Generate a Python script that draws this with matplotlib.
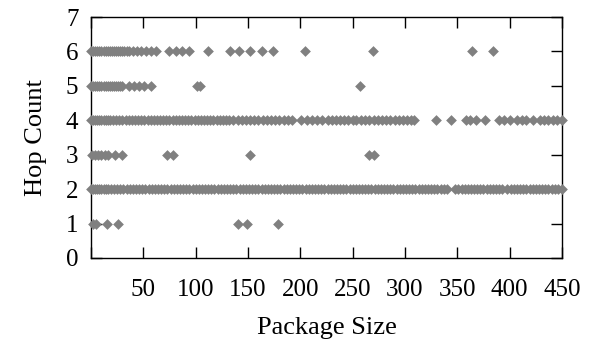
import matplotlib.pyplot as plt

# Package sizes observed for each hop count
hop1 = [2, 5, 15, 26, 140, 149, 179]
hop2 = [0, 2, 4, 6, 8, 10, 12, 14, 16, 19, 22, 25, 28, 31, 34, 37, 40, 43, 46, 49,
        52, 55, 58, 61, 64, 67, 70, 73, 76, 79, 82, 85, 88, 91, 94, 97, 100, 103,
        106, 109, 112, 115, 118, 121, 124, 127, 130, 133, 136, 139, 142, 145, 148,
        151, 154, 157, 160, 163, 166, 169, 172, 175, 178, 181, 184, 187, 190, 193,
        196, 199, 202, 205, 208, 211, 214, 217, 220, 223, 226, 229, 232, 235, 238,
        241, 244, 247, 250, 253, 256, 259, 262, 265, 268, 271, 274, 277, 280, 283,
        286, 289, 292, 295, 298, 301, 304, 307, 310, 313, 316, 319, 322, 325, 328,
        331, 334, 337, 340, 348, 351, 354, 357, 360, 363, 366, 369, 372, 375, 378,
        381, 384, 387, 390, 393, 397, 401, 404, 407, 410, 413, 416, 419, 422, 425,
        428, 431, 434, 437, 440, 443, 446, 450]
hop3 = [1, 4, 7, 10, 13, 16, 23, 30, 73, 78, 152, 266, 270]
hop4 = [0, 2, 4, 6, 8, 10, 12, 14, 16, 18, 21, 24, 27, 30, 33, 36, 39, 42, 45, 48,
        51, 54, 57, 60, 63, 66, 69, 72, 75, 78, 81, 84, 87, 90, 93, 96, 99, 102,
        105, 108, 111, 114, 117, 120, 123, 126, 129, 132, 136, 140, 144, 148, 152,
        156, 160, 164, 168, 172, 176, 180, 184, 188, 192, 201, 206, 211, 216, 221,
        226, 230, 234, 238, 242, 246, 250, 253, 258, 262, 266, 270, 274, 278, 282,
        286, 290, 294, 298, 302, 306, 309, 330, 344, 358, 362, 368, 376, 390, 395,
        400, 407, 412, 416, 422, 429, 433, 437, 441, 445, 450]
hop5 = [0, 2, 4, 6, 8, 10, 12, 14, 16, 18, 20, 22, 24, 26, 28, 30, 36, 41, 46, 51,
        57, 101, 104, 257]
hop6 = [0, 2, 4, 6, 8, 10, 12, 14, 16, 18, 20, 22, 24, 26, 28, 30, 32, 34, 36, 40,
        44, 48, 53, 57, 62, 75, 81, 87, 94, 112, 133, 141, 152, 163, 174, 204, 269,
        364, 384]

series = [(1, hop1), (2, hop2), (3, hop3), (4, hop4), (5, hop5), (6, hop6)]

plt.rcParams['font.family'] = ['Liberation Serif', 'DejaVu Serif']

fig = plt.figure(figsize=(5.92, 3.47), dpi=100)
ax = fig.add_axes([0.1537, 0.2565, 0.7956, 0.6945])

for hop, sizes in series:
    ax.scatter(sizes, [hop] * len(sizes), marker='D', s=30, color='#808080',
               linewidths=0, clip_on=False, zorder=3)

ax.set_xlim(0, 450)
ax.set_ylim(0, 7)
ax.set_xticks(range(0, 451, 50))
ax.set_xticklabels([''] + [str(v) for v in range(50, 451, 50)])
ax.set_yticks(range(0, 8))

ax.tick_params(axis='both', direction='in', length=8, width=1,
               top=True, right=True, labelsize=18)
ax.tick_params(axis='x', pad=15)
ax.tick_params(axis='y', pad=9)

for sp in ax.spines.values():
    sp.set_linewidth(1)

ax.set_xlabel('Package Size', fontsize=19, labelpad=12)
ax.set_ylabel('Hop Count', fontsize=19, labelpad=14)

fig.savefig('out.png', dpi=100)
